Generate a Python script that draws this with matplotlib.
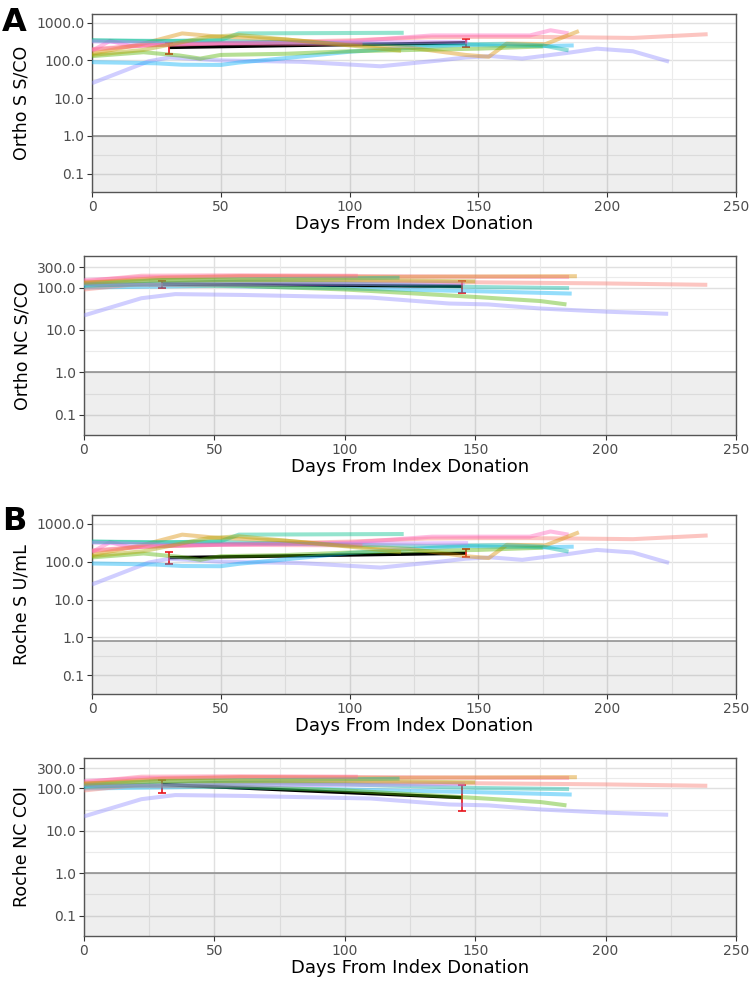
import matplotlib
matplotlib.use("Agg")
from matplotlib import pyplot as plt
from matplotlib.ticker import FixedLocator, FixedFormatter

# donor colours (same donor order in every panel)
donor_colors = ["#8F8CFF", "#00B0F6", "#F8766D", "#FF62BC", "#DB8E00", "#53B400",
                "#00B5A0", "#00C08B", "#C77CFF", "#FF6C91", "#AEA200"]

# spike antibody trajectories per donor
s_days = [
    [0, 22, 30, 50, 81, 112, 135, 145, 155, 167, 185, 196, 210, 224],
    [0, 25, 35, 50, 57, 75, 100, 120, 145, 160, 175, 187],
    [0, 20, 50, 100, 130, 150, 170, 188, 210, 239],
    [0, 7, 15, 30, 60, 100, 132, 150, 170, 178, 185],
    [0, 20, 35, 50, 75, 100, 123, 145, 154, 161, 176, 189],
    [0, 20, 34, 42, 50, 75, 100, 125, 150, 175],
    [0, 25, 50, 75, 100, 130, 160, 175, 185],
    [0, 25, 50, 57, 121],
    [0, 30, 60, 100, 146],
    [0, 20, 50, 105],
    [0, 20, 45, 57, 100, 120],
]
s_vals = [
    [25, 95, 120, 100, 92, 70, 100, 120, 130, 112, 160, 205, 175, 93],
    [90, 84, 77, 76, 88, 115, 170, 210, 260, 245, 240, 250],
    [190, 250, 290, 340, 410, 420, 420, 410, 395, 495],
    [180, 330, 240, 265, 290, 320, 460, 460, 460, 630, 520],
    [150, 280, 520, 420, 360, 260, 220, 140, 125, 280, 270, 600],
    [130, 165, 135, 112, 140, 150, 175, 190, 205, 235],
    [340, 330, 330, 300, 280, 260, 275, 250, 185],
    [340, 320, 350, 520, 540],
    [320, 280, 290, 300, 310],
    [200, 250, 280, 270],
    [140, 190, 420, 470, 250, 180],
]

# nucleocapsid antibody trajectories per donor
nc_days = [
    [0, 22, 35, 60, 110, 140, 155, 175, 200, 224],
    [0, 50, 100, 150, 187],
    [0, 20, 60, 120, 150, 200, 239],
    [0, 22, 60, 105, 150, 186],
    [0, 30, 60, 120, 189],
    [0, 30, 60, 100, 150, 175, 185],
    [0, 50, 100, 150, 186],
    [0, 30, 121],
    [0, 30, 80, 146],
    [0, 22, 60, 105],
    [0, 30, 100, 150],
]
nc_vals = [
    [22, 56, 70, 67, 58, 42, 40, 32, 27, 24],
    [100, 110, 95, 82, 72],
    [90, 120, 140, 140, 133, 125, 116],
    [150, 175, 185, 185, 180, 178],
    [130, 170, 185, 180, 185],
    [120, 115, 110, 90, 60, 48, 40],
    [110, 135, 125, 103, 97],
    [120, 150, 170],
    [120, 115, 120, 126],
    [140, 190, 195, 190],
    [130, 150, 150, 140],
]

# group means with error bars
mean_days = [30, 145]
ortho_s_mean = [221, 293]
ortho_s_lo = [144, 225]
ortho_s_hi = [288, 367]
ortho_nc_mean = [120, 107]
ortho_nc_lo = [95, 75]
ortho_nc_hi = [141, 146]
roche_s_mean = [128, 167]
roche_s_lo = [87, 133]
roche_s_hi = [184, 213]
roche_nc_mean = [124, 61]
roche_nc_lo = [79, 30]
roche_nc_hi = [160, 124]

s_ticks = [0.1, 1, 10, 100, 1000]
s_labels = ["0.1", "1.0", "10.0", "100.0", "1000.0"]
nc_ticks = [0.1, 1, 10, 100, 300]
nc_labels = ["0.1", "1.0", "10.0", "100.0", "300.0"]
x_ticks = [0, 50, 100, 150, 200, 250]

fig = plt.figure(figsize=(7.5, 9.84), dpi=100)

panels = [
    # rect, ylabel, days, vals, mean, lo, hi, ticks, labels, ylim, cutoff
    ([0.1227, 0.8049, 0.8586, 0.1809], "Ortho S S/CO", s_days, s_vals,
     ortho_s_mean, ortho_s_lo, ortho_s_hi, s_ticks, s_labels, (-1.485, 3.231), 1.0),
    ([0.1120, 0.5579, 0.8693, 0.1819], "Ortho NC S/CO", nc_days, nc_vals,
     ortho_nc_mean, ortho_nc_lo, ortho_nc_hi, nc_ticks, nc_labels, (-1.478, 2.743), 1.0),
    ([0.1227, 0.2947, 0.8586, 0.1819], "Roche S U/mL", s_days, s_vals,
     roche_s_mean, roche_s_lo, roche_s_hi, s_ticks, s_labels, (-1.50, 3.235), 0.8),
    ([0.1120, 0.0488, 0.8693, 0.1812], "Roche NC COI", nc_days, nc_vals,
     roche_nc_mean, roche_nc_lo, roche_nc_hi, nc_ticks, nc_labels, (-1.479, 2.727), 1.0),
]

for rect, ylab, days, vals, mn, lo, hi, ticks, labels, ylim, cutoff in panels:
    ax = fig.add_axes(rect)
    ax.set_yscale("log")
    ax.set_ylim(10 ** ylim[0], 10 ** ylim[1])
    ax.set_xlim(0, 250)

    # grid like theme_bw
    minor_y = [(a * b) ** 0.5 for a, b in zip(ticks[:-1], ticks[1:])]
    for y in ticks:
        ax.axhline(y, color="#E0E0E0", lw=1.0, zorder=0)
    for y in minor_y:
        ax.axhline(y, color="#EBEBEB", lw=0.8, zorder=0)
    for x in x_ticks:
        ax.axvline(x, color="#E0E0E0", lw=1.0, zorder=0)
    for x in [25, 75, 125, 175, 225]:
        ax.axvline(x, color="#EBEBEB", lw=0.8, zorder=0)

    # below cutoff shading
    ax.axhspan(10 ** ylim[0], cutoff, color="black", alpha=0.065, lw=0, zorder=1)
    ax.axhline(cutoff, color="#8A8A8A", lw=1.1, zorder=1.5)

    # mean and error bars
    ax.plot(mean_days, mn, color="black", lw=2.4, zorder=2, solid_capstyle="butt")
    yerr = [[m - l for m, l in zip(mn, lo)], [h - m for m, h in zip(mn, hi)]]
    ax.errorbar(mean_days, mn, yerr=yerr, fmt="none", ecolor="#E8141C",
                elinewidth=1.2, capsize=3.2, capthick=1.2, zorder=2.5)

    # donors
    for d, v, c in zip(days, vals, donor_colors):
        ax.plot(d, v, color=c, alpha=0.42, lw=2.9, zorder=3, solid_capstyle="butt")

    ax.yaxis.set_major_locator(FixedLocator(ticks))
    ax.yaxis.set_major_formatter(FixedFormatter(labels))
    ax.yaxis.set_minor_locator(FixedLocator([]))
    ax.set_xticks(x_ticks)
    ax.set_xticklabels([str(x) for x in x_ticks])
    ax.tick_params(axis="both", length=3.5, width=0.8, color="#333333",
                   labelsize=10, labelcolor="#4D4D4D", pad=2)
    for sp in ax.spines.values():
        sp.set_color("#555555")
        sp.set_linewidth(1.0)
    ax.set_ylabel(ylab, fontsize=12.5, labelpad=4)
    ax.set_xlabel("Days From Index Donation", fontsize=13, labelpad=1)

fig.text(0.003, 0.993, "A", fontsize=23, fontweight="bold", va="top", ha="left")
fig.text(0.003, 0.486, "B", fontsize=23, fontweight="bold", va="top", ha="left")

fig.savefig("out.png", dpi=100)
